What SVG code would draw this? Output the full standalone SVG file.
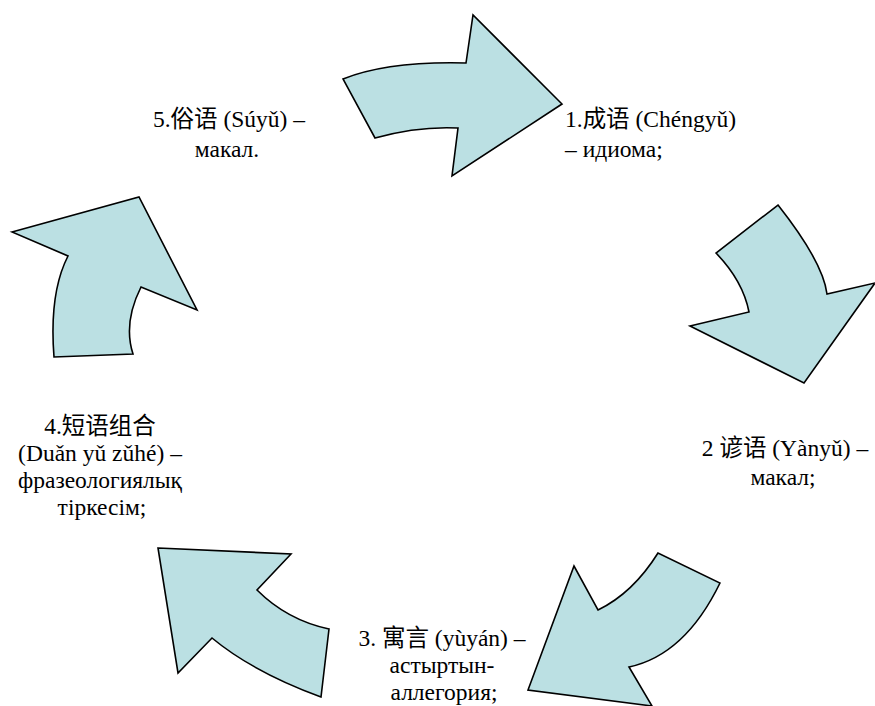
<svg xmlns="http://www.w3.org/2000/svg" width="875" height="706" viewBox="0 0 875 706">
<style>
.arrow{fill:#BBE0E3;stroke:#000;stroke-width:1.6;stroke-linejoin:miter}
.lbl{font-family:"Liberation Serif","Times New Roman","Noto Sans CJK SC",serif;font-size:23.5px;fill:#000}
.c{text-anchor:middle}
</style>
<rect width="875" height="706" fill="#fff"/>
<g id="connectors">
<path class="arrow" d="M343,79 Q388,61 466,63 L473,15 L562,104 L452,176 L458,128 Q418,126 375,138 Z"/>
<path class="arrow" d="M778,205 Q823,262 827,294 L875,283 L804,383 L690,326 L749,312 Q743,281 716,253 Z"/>
<path class="arrow" d="M720,583 Q685,655 629,667 L652,706 L528,690 L574,566 L598,610 Q633,593 658,553 Z"/>
<path class="arrow" d="M158,548 L291,554 L257,590 Q287,620 329,629 L321,697 Q253,672 212,638 L178,673 Z"/>
<path class="arrow" d="M12,232 L139,197 L197,310 L141,287 Q123,323 133,354 L54,357 Q49,293 68,256 Z"/>
</g>
<g id="node1">
<text class="lbl" x="565" y="127">1.成语 (Chéngyǔ)</text>
<text class="lbl" x="565" y="157">– идиома;</text>
</g>
<g id="node2">
<text class="lbl c" x="785" y="456">2 谚语 (Yànyǔ) –</text>
<text class="lbl c" x="783" y="485">макал;</text>
</g>
<g id="node3">
<text class="lbl c" x="442" y="646">3. 寓言 (yùyán) –</text>
<text class="lbl c" x="442" y="673">астыртын-</text>
<text class="lbl c" x="444" y="700">аллегория;</text>
</g>
<g id="node4">
<text class="lbl c" x="100" y="434">4.短语组合</text>
<text class="lbl c" x="100" y="461">(Duǎn yǔ zǔhé) –</text>
<text class="lbl c" x="100" y="488">фразеологиялық</text>
<text class="lbl c" x="102" y="515">тіркесім;</text>
</g>
<g id="node5">
<text class="lbl c" x="229" y="127">5.俗语 (Súyǔ) –</text>
<text class="lbl c" x="227" y="157">макал.</text>
</g>
</svg>
